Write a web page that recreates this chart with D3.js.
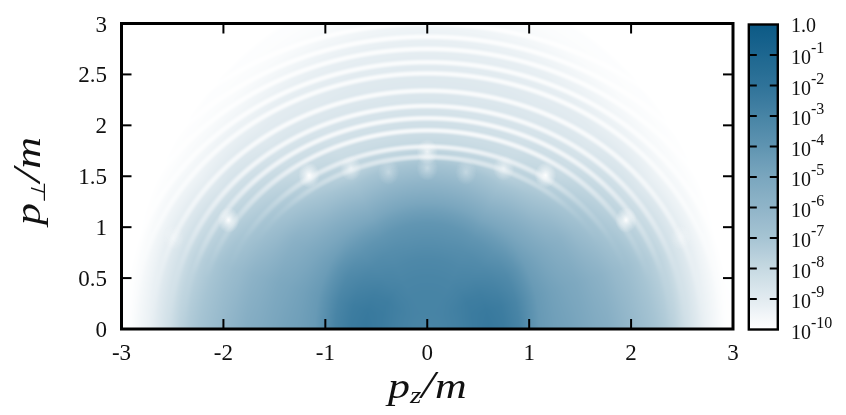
<!DOCTYPE html>
<html><head><meta charset="utf-8">
<script src="https://d3js.org/d3.v7.min.js"></script>
<style>
html,body{margin:0;padding:0;background:#fff;width:846px;height:415px;overflow:hidden}
#c{position:absolute;left:0;top:0}
svg{position:absolute;left:0;top:0}
text{font-family:"Liberation Serif",serif;fill:#111}
</style></head><body>
<canvas id="c" width="846" height="415"></canvas>
<svg id="s" width="846" height="415"></svg>
<script>
const xTicks=[-3,-2,-1,0,1,2,3];
const yTicks=[0,0.5,1,1.5,2,2.5,3];
const barExponents=[0,-1,-2,-3,-4,-5,-6,-7,-8,-9,-10];
const rampExponents=[0,-2,-4,-5,-6,-7,-8,-9,-10];
const rampColors=["#0b5a86","#2f7399","#5f94b1","#7aa6be","#8fb4c8","#a6c4d3","#c6d9e2","#e2ebf0","#ffffff"];
const angles=[0,15,30,45,60,75,90];
const radii=[0,.15,.3,.45,.6,.75,.9,1,1.1,1.25,1.4,1.51,1.65,1.77,1.89,2.02,2.16,2.25,2.34,2.43,2.53,2.63,2.73,2.85,2.91,2.95,3.5];
const logDensity=[
[-3.1,-3.1,-3.1,-3.1,-3.1,-3.1,-3.1],
[-3.0,-3.0,-3.0,-3.0,-3.0,-3.0,-3.0],
[-2.8,-2.8,-2.8,-2.9,-3.0,-3.0,-3.0],
[-2.5,-2.5,-2.6,-2.9,-3.1,-3.1,-3.1],
[-2.3,-2.4,-2.7,-3.1,-3.3,-3.3,-3.3],
[-2.5,-2.6,-3.0,-3.4,-3.6,-3.7,-3.7],
[-3.0,-3.1,-3.4,-3.9,-4.1,-4.1,-4.1],
[-3.7,-3.7,-3.9,-4.3,-4.6,-4.6,-4.6],
[-4.3,-4.3,-4.5,-4.8,-5.2,-5.2,-5.2],
[-4.6,-4.7,-5.0,-5.5,-6.1,-6.1,-6.1],
[-4.8,-5.0,-5.5,-6.3,-6.9,-7.0,-7.0],
[-5.0,-5.2,-5.8,-6.8,-7.6,-7.8,-7.8],
[-5.3,-5.6,-6.4,-7.4,-8.1,-8.2,-8.2],
[-5.5,-5.9,-6.8,-7.8,-8.3,-8.4,-8.4],
[-5.9,-6.3,-7.2,-8.1,-8.5,-8.6,-8.6],
[-6.3,-6.6,-7.6,-8.4,-8.7,-8.8,-8.8],
[-6.7,-7.1,-8.0,-8.7,-8.9,-8.9,-8.9],
[-7.0,-7.4,-8.3,-8.9,-9.0,-9.0,-9.0],
[-7.3,-7.7,-8.6,-9.0,-9.1,-9.1,-9.1],
[-7.7,-8.1,-8.9,-9.2,-9.2,-9.2,-9.2],
[-8.3,-8.6,-9.2,-9.4,-9.4,-9.4,-9.4],
[-8.8,-9.0,-9.5,-9.6,-9.6,-9.6,-9.6],
[-9.3,-9.4,-9.7,-9.8,-9.8,-9.8,-9.8],
[-9.7,-9.8,-9.9,-9.9,-9.9,-9.9,-9.9],
[-9.9,-9.95,-9.95,-9.9,-9.9,-9.9,-9.9],
[-9.95,-10,-10,-10,-10,-10,-10],
[-10,-10,-10,-10,-10,-10,-10]
];
const ringTops=[1.69,1.79,1.95,2.07,2.19,2.34,2.51,2.62,2.75,2.87,3.0];
const ringFade=[
[0,0,0,.1,.3,.45,.6],
[0,0,.05,.2,.5,.65,.75],
[0,0,.15,.45,.7,.8,.8],
[0,.05,.3,.6,.75,.8,.8],
[0,.1,.4,.65,.75,.8,.8],
[0,.15,.5,.7,.8,.8,.8],
[.02,.2,.55,.7,.8,.8,.8],
[.05,.3,.6,.7,.8,.8,.8],
[.05,.3,.6,.7,.8,.8,.8],
[.05,.3,.6,.7,.8,.8,.8],
[.05,.3,.6,.7,.8,.8,.8]
];
const spotPz=[-2.49,2.49,-1.95,1.95,-1.16,1.16,-0.75,0.75,-0.38,0.38,0,0];
const spotPerp=[0.9,0.9,1.07,1.07,1.51,1.51,1.58,1.58,1.54,1.54,1.74,1.58];
const spotAlpha=[0.35,0.35,0.95,0.95,0.95,0.95,0.6,0.6,0.35,0.35,0.7,0.4];
const xTitle=["p","z","/","m"];
const yTitle=["p","\u22a5","/","m"];

const W=846,H=415,L=121.5,R=733,T=23.5,B=329;
const x=d3.scaleLinear().domain([-3,3]).range([L,R]);
const y=d3.scaleLinear().domain([0,3]).range([B,T]);
const cb=d3.scaleLog().domain([1e-10,1]).range([329.5,24.5]);
const col=d3.scaleLog().domain(rampExponents.map(e=>Math.pow(10,e))).range(rampColors).interpolate(d3.interpolateRgb).clamp(true);
const envelopeStretch=1.16, ringSquash=1.15, ringHalfWidth=.045;

function angleIndex(a){
  const j=Math.max(0,Math.min(angles.length-2,d3.bisectRight(angles,a)-1));
  return [j,(a-angles[j])/(angles[j+1]-angles[j])];
}
function lookup(pz,pp){
  const py=pp/envelopeStretch;
  const u=Math.hypot(pz,py);
  const [j,ta]=angleIndex(Math.atan2(py,Math.abs(pz))*180/Math.PI);
  const i=Math.max(0,Math.min(radii.length-2,d3.bisectRight(radii,u)-1));
  const tu=Math.min(1,(u-radii[i])/(radii[i+1]-radii[i]));
  const v0=logDensity[i][j]*(1-ta)+logDensity[i][j+1]*ta;
  const v1=logDensity[i+1][j]*(1-ta)+logDensity[i+1][j+1]*ta;
  let v=v0*(1-tu)+v1*tu;
  const qz=pz/ringSquash, w=Math.hypot(qz,pp);
  const [rj,rt]=angleIndex(Math.atan2(pp,Math.abs(qz))*180/Math.PI);
  for(let k=0;k<ringTops.length;k++){
    const d=Math.abs(w-ringTops[k]);
    if(d<ringHalfWidth){
      const c=Math.cos(d/ringHalfWidth*Math.PI/2);
      const f=ringFade[k][rj]*(1-rt)+ringFade[k][rj+1]*rt;
      v+=(-10-v)*f*c*c;
    }
  }
  return v;
}
const ctx=document.getElementById("c").getContext("2d");
ctx.fillStyle="#fff";ctx.fillRect(0,0,W,H);
const x0=Math.round(L),x1=Math.round(R),y0=Math.round(T),y1=Math.round(B);
const img=ctx.createImageData(x1-x0,y1-y0);
for(let py=y0;py<y1;py++)for(let px=x0;px<x1;px++){
  const c=d3.rgb(col(Math.pow(10,lookup(x.invert(px+.5),y.invert(py+.5)))));
  const k=4*((py-y0)*(x1-x0)+px-x0);
  img.data[k]=c.r;img.data[k+1]=c.g;img.data[k+2]=c.b;img.data[k+3]=255;
}
ctx.putImageData(img,x0,y0);

const svg=d3.select("#s");
const defs=svg.append("defs");
const rg=defs.append("radialGradient").attr("id","spot");
rg.append("stop").attr("offset","0%").attr("stop-color","#fff").attr("stop-opacity",1);
rg.append("stop").attr("offset","35%").attr("stop-color","#fff").attr("stop-opacity",.6);
rg.append("stop").attr("offset","100%").attr("stop-color","#fff").attr("stop-opacity",0);
svg.append("g").selectAll("ellipse").data(spotPz).join("ellipse")
  .attr("cx",d=>x(d)).attr("cy",(d,i)=>y(spotPerp[i])).attr("rx",11).attr("ry",13)
  .attr("fill","url(#spot)").attr("opacity",(d,i)=>spotAlpha[i]);

const ax=svg.append("g").attr("stroke","#000").attr("stroke-width",2);
ax.append("rect").attr("x",L).attr("y",T).attr("width",R-L).attr("height",B-T).attr("fill","none").attr("stroke-width",3);
ax.selectAll(".xb").data(xTicks.slice(1,-1)).join("line").attr("x1",x).attr("x2",x).attr("y1",B).attr("y2",B-10);
ax.selectAll(".xt").data(xTicks.slice(1,-1)).enter().append("line").attr("x1",x).attr("x2",x).attr("y1",T).attr("y2",T+10);
ax.selectAll(".yl").data(yTicks.slice(1,-1)).enter().append("line").attr("y1",y).attr("y2",y).attr("x1",L).attr("x2",L+10);
ax.selectAll(".yr").data(yTicks.slice(1,-1)).enter().append("line").attr("y1",y).attr("y2",y).attr("x1",R).attr("x2",R-10);

svg.append("g").selectAll("text").data(xTicks).join("text")
  .attr("x",x).attr("y",360).attr("text-anchor","middle").attr("font-size",23).text(d=>d);
svg.append("g").selectAll("text").data(yTicks).join("text")
  .attr("x",107).attr("y",d=>y(d)+8).attr("text-anchor","end").attr("font-size",23).text(d=>d);

const lg=defs.append("linearGradient").attr("id","bar").attr("x1",0).attr("x2",0).attr("y1",1).attr("y2",0);
d3.range(0,41).forEach(i=>{
  const e=-10+i/4;
  lg.append("stop").attr("offset",(i/40*100)+"%").attr("stop-color",col(Math.pow(10,e)));
});
const bx=748.8,bw=29;
svg.append("rect").attr("x",bx).attr("y",cb(1)).attr("width",bw).attr("height",cb(1e-10)-cb(1)).attr("fill","url(#bar)");
const cbg=svg.append("g").attr("stroke","#000").attr("stroke-width",2);
barExponents.slice(1,-1).forEach(e=>{
  const v=cb(Math.pow(10,e));
  cbg.append("line").attr("x1",bx).attr("x2",bx+8).attr("y1",v).attr("y2",v);
  cbg.append("line").attr("x1",bx+bw).attr("x2",bx+bw-8).attr("y1",v).attr("y2",v);
});
cbg.append("rect").attr("x",bx).attr("y",cb(1)).attr("width",bw).attr("height",cb(1e-10)-cb(1)).attr("fill","none").attr("stroke-width",2.4);
const lab=svg.append("g").attr("font-size",20);
barExponents.forEach(e=>{
  const t=lab.append("text").attr("x",791).attr("y",cb(Math.pow(10,e))+(e===0?7:9));
  if(e===0){t.text("1.0");return;}
  t.append("tspan").text("10");
  t.append("tspan").attr("dy",-11).attr("font-size",16).text(String(e));
});

function title(g,parts,sub){
  const t=g.append("text").attr("font-size",36).attr("font-style","italic").attr("transform","scale(1.22,1)");
  t.append("tspan").text(parts[0]);
  t.append("tspan").attr("dy",5).attr("font-size",sub).text(parts[1]);
  t.append("tspan").attr("dy",-5).attr("font-size",40).text(parts[2]);
  t.append("tspan").text(parts[3]);
}
title(svg.append("g").attr("transform","translate(388,398)"),xTitle,24);
title(svg.append("g").attr("transform","translate(40,225) rotate(-90)"),yTitle,20);
</script>
</body></html>
